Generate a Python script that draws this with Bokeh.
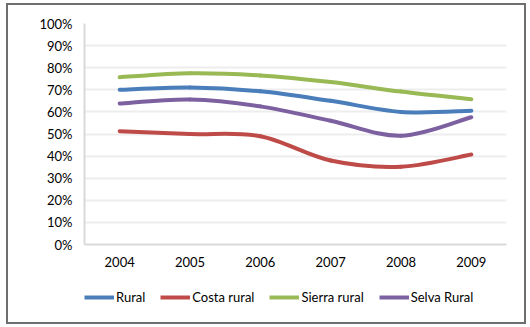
from bokeh.plotting import figure
from bokeh.layouts import column
from bokeh.models import FixedTicker, Legend, LegendItem, Range1d
from bokeh.embed import file_html
from bokeh.resources import INLINE

years = ["2004", "2005", "2006", "2007", "2008", "2009"]
rural = [70.0, 71.0, 69.3, 65.0, 60.0, 60.5]
costa = [51.3, 50.0, 49.0, 38.0, 35.2, 40.7]
sierra = [75.7, 77.5, 76.5, 73.5, 69.2, 65.7]
selva = [63.8, 65.6, 62.5, 56.0, 49.2, 57.6]
series_names = ["Rural", "Costa rural", "Sierra rural", "Selva Rural"]
colors = ["#4a7ebb", "#be4b48", "#98b954", "#7d60a0"]

FONT = "Lato"
all_series = [rural, costa, sierra, selva]

# ---------------- main chart ----------------
p = figure(width=530, height=274, output_backend="svg", toolbar_location=None,
           x_range=Range1d(0, len(years)), y_range=Range1d(0, 100),
           min_border_left=84, min_border_right=24, min_border_top=23,
           min_border_bottom=30)
p.outline_line_color = None
p.background_fill_color = "white"
p.border_fill_alpha = 0

xs = [i + 0.5 for i in range(len(years))]

def smooth_segments(x, y):
    n = len(x)
    x0, y0, x1, y1, cx0, cy0, cx1, cy1 = [], [], [], [], [], [], [], []
    for i in range(n - 1):
        pm = i - 1 if i > 0 else i
        pp = i + 2 if i + 2 < n else i + 1
        x0.append(x[i]); y0.append(y[i])
        x1.append(x[i + 1]); y1.append(y[i + 1])
        cx0.append(x[i] + (x[i + 1] - x[pm]) / 6.0)
        cy0.append(y[i] + (y[i + 1] - y[pm]) / 6.0)
        cx1.append(x[i + 1] - (x[pp] - x[i]) / 6.0)
        cy1.append(y[i + 1] - (y[pp] - y[i]) / 6.0)
    return dict(x0=x0, y0=y0, x1=x1, y1=y1, cx0=cx0, cy0=cy0, cx1=cx1, cy1=cy1)

for vals, col in zip(all_series, colors):
    seg = smooth_segments(xs, vals)
    p.bezier(line_color=col, line_width=4, line_cap="round", **seg)

p.xaxis.ticker = FixedTicker(ticks=xs)
p.xaxis.major_label_overrides = {x: y for x, y in zip(xs, years)}
p.yaxis.ticker = FixedTicker(ticks=list(range(0, 101, 10)))
p.yaxis.major_label_overrides = {v: f"{v}%" for v in range(0, 101, 10)}
for ax in (p.xaxis, p.yaxis):
    ax.axis_line_color = "#d9d9d9"
    ax.axis_line_width = 2
    ax.major_tick_line_color = None
    ax.minor_tick_line_color = None
    ax.major_tick_out = 0
    ax.major_tick_in = 0
    ax.minor_tick_out = 0
    ax.minor_tick_in = 0
    ax.major_label_text_font = FONT
    ax.major_label_text_font_size = "13px"
    ax.major_label_text_color = "#000000"
p.yaxis.major_label_standoff = 12
p.xaxis.major_label_standoff = 12

p.xgrid.grid_line_color = None
p.ygrid.grid_line_color = "#ededed"
p.ygrid.grid_line_width = 2

# ---------------- legend strip ----------------
# series lines drawn out of this strip's view; only their legend swatches show
pl = figure(width=530, height=53, output_backend="svg", toolbar_location=None,
            x_range=Range1d(0, 1), y_range=Range1d(0, 1),
            x_axis_location=None, y_axis_location=None, min_border=0)
pl.outline_line_color = None
pl.background_fill_alpha = 0
pl.border_fill_alpha = 0
pl.grid.grid_line_color = None

items = []
for name, vals, col in zip(series_names, all_series, colors):
    r = pl.line(x=xs, y=vals, line_color=col, line_width=4)
    items.append(LegendItem(label=name, renderers=[r]))

legend = Legend(items=items, orientation="horizontal", location=(0, 22),
                border_line_color=None, background_fill_alpha=0,
                glyph_width=30, glyph_height=10, label_standoff=2, spacing=15,
                label_text_font=FONT, label_text_font_size="13px",
                label_text_color="#000000", padding=0, margin=0)
pl.add_layout(legend)

# outer chart border drawn as the layout's background
BC = "#6e6e6e"
bg = (f"linear-gradient({BC},{BC}) 6px 3px / 520px 2px no-repeat, "
      f"linear-gradient({BC},{BC}) 6px 322px / 520px 2px no-repeat, "
      f"linear-gradient({BC},{BC}) 6px 3px / 2px 321px no-repeat, "
      f"linear-gradient({BC},{BC}) 524px 3px / 2px 321px no-repeat, "
      "white")
layout = column(p, pl, spacing=0, styles={"background": bg})

open("out.html", "w").write(file_html(layout, INLINE))
